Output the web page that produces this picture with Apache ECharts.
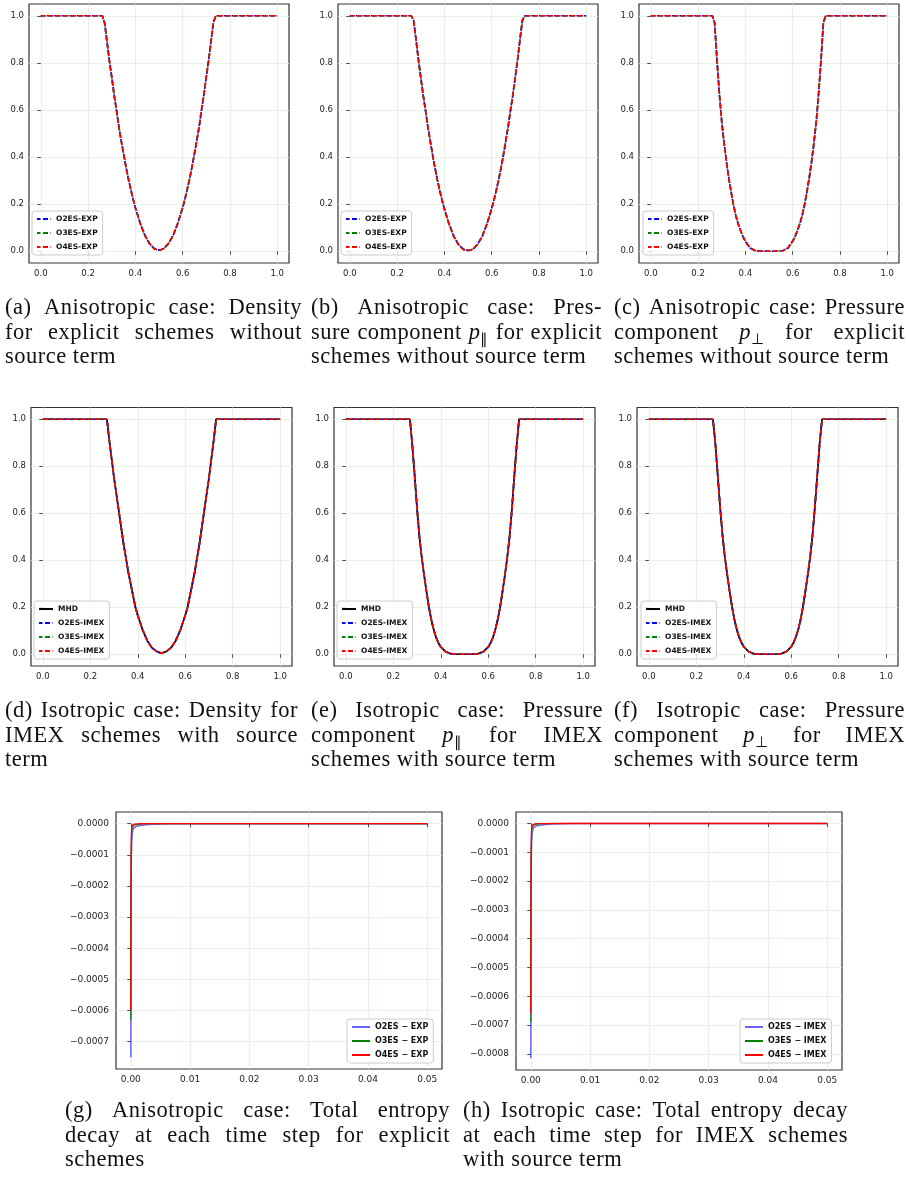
<!DOCTYPE html>
<html>
<head>
<meta charset="utf-8">
<script src="https://cdn.jsdelivr.net/npm/echarts@6.0.0/dist/echarts.min.js"></script>
<style>
  html, body { margin: 0; padding: 0; background: #fff; }
  #wrap { position: relative; width: 906px; height: 1180px; }
  #chart { position: absolute; left: 0; top: 0; width: 906px; height: 1180px; }
  .cap { position: absolute; font-family: 'Liberation Serif', serif; font-size: 22.5px; letter-spacing: 0.5px; line-height: 24.5px; color: #111; }
  .cap div { white-space: nowrap; height: 24.5px; }
  .cap div.j { display: flex; justify-content: space-between; }
  .cap sub { font-size: 0.68em; vertical-align: -0.3em; line-height: 0; }
</style>
</head>
<body>
<div id="wrap">
  <div id="chart"></div>

  <div class="cap" style="left:5px; top:295px; width:297px">
    <div class="j">(a) Anisotropic case: Density</div>
    <div class="j">for explicit schemes without</div>
    <div>source term</div>
  </div>
  <div class="cap" style="left:311px; top:295px; width:291px">
    <div class="j">(b) Anisotropic case: Pres-</div>
    <div class="j">sure component <i>p</i><sub>∥</sub> for explicit</div>
    <div>schemes without source term</div>
  </div>
  <div class="cap" style="left:614px; top:295px; width:291px">
    <div class="j">(c) Anisotropic case: Pressure</div>
    <div class="j">component <i>p</i><sub>⊥</sub> for explicit</div>
    <div>schemes without source term</div>
  </div>

  <div class="cap" style="left:5px; top:698px; width:293px">
    <div class="j">(d) Isotropic case: Density for</div>
    <div class="j">IMEX schemes with source</div>
    <div>term</div>
  </div>
  <div class="cap" style="left:311px; top:698px; width:292px">
    <div class="j">(e) Isotropic case: Pressure</div>
    <div class="j">component <i>p</i><sub>∥</sub> for IMEX</div>
    <div>schemes with source term</div>
  </div>
  <div class="cap" style="left:614px; top:698px; width:291px">
    <div class="j">(f) Isotropic case: Pressure</div>
    <div class="j">component <i>p</i><sub>⊥</sub> for IMEX</div>
    <div>schemes with source term</div>
  </div>

  <div class="cap" style="left:65px; top:1098px; width:385px">
    <div class="j">(g) Anisotropic case: Total entropy</div>
    <div class="j">decay at each time step for explicit</div>
    <div>schemes</div>
  </div>
  <div class="cap" style="left:463px; top:1098px; width:385px">
    <div class="j">(h) Isotropic case: Total entropy decay</div>
    <div class="j">at each time step for IMEX schemes</div>
    <div>with source term</div>
  </div>
</div>

<script>
// justified caption lines: one span per word, spread over the line
document.querySelectorAll('.cap div.j').forEach(el => {
  el.innerHTML = el.innerHTML.trim().split(/\s+/).map(w => '<span>' + w + '</span>').join('')
})

// x positions shared by all the profile plots (a)-(f)
const xGrid = [0, 0.1, 0.2, 0.26, 0.27, 0.28, 0.29, 0.3, 0.31, 0.32, 0.33, 0.34, 0.35, 0.36, 0.37, 0.38, 0.39, 0.4, 0.42, 0.44, 0.46, 0.48, 0.49,
  0.5,
  0.51, 0.52, 0.54, 0.56, 0.58, 0.6, 0.61, 0.62, 0.63, 0.64, 0.65, 0.66, 0.67, 0.68, 0.69, 0.7, 0.71, 0.72, 0.73, 0.74, 0.8, 0.9, 1]

// (a) density, anisotropic, explicit
const rhoAnisoExp = [1, 1, 1, 1, 0.97, 0.89, 0.81, 0.74, 0.665, 0.6, 0.53, 0.47, 0.415, 0.36, 0.31, 0.265, 0.223, 0.185, 0.12, 0.068, 0.032, 0.011, 0.007,
  0.005,
  0.007, 0.011, 0.032, 0.068, 0.12, 0.185, 0.223, 0.265, 0.31, 0.36, 0.415, 0.47, 0.53, 0.6, 0.665, 0.74, 0.81, 0.89, 0.97, 1, 1, 1, 1]
// (b) p_par, anisotropic, explicit
const pParAnisoExp = [1, 1, 1, 1, 0.98, 0.9, 0.815, 0.74, 0.665, 0.6, 0.53, 0.47, 0.41, 0.355, 0.305, 0.26, 0.218, 0.18, 0.115, 0.063, 0.028, 0.008, 0.005,
  0.004,
  0.005, 0.008, 0.028, 0.063, 0.115, 0.18, 0.218, 0.26, 0.305, 0.355, 0.41, 0.47, 0.53, 0.6, 0.665, 0.74, 0.815, 0.9, 0.98, 1, 1, 1, 1]
// (c) p_perp, anisotropic, explicit
const pPerpAnisoExp = [1, 1, 1, 1, 0.97, 0.81, 0.67, 0.55, 0.46, 0.38, 0.31, 0.25, 0.195, 0.15, 0.115, 0.087, 0.062, 0.042, 0.014, 0.003, 0.0005, 0, 0,
  0,
  0, 0, 0.0005, 0.003, 0.014, 0.042, 0.062, 0.087, 0.115, 0.15, 0.195, 0.25, 0.31, 0.38, 0.46, 0.55, 0.67, 0.81, 0.97, 1, 1, 1, 1]
// (d) density, isotropic, IMEX
const rhoIsoImex = [1, 1, 1, 1, 1, 0.91, 0.83, 0.75, 0.68, 0.61, 0.54, 0.47, 0.41, 0.35, 0.3, 0.25, 0.2, 0.165, 0.105, 0.058, 0.027, 0.012, 0.008,
  0.004,
  0.008, 0.012, 0.027, 0.058, 0.105, 0.165, 0.2, 0.25, 0.3, 0.35, 0.41, 0.47, 0.54, 0.61, 0.68, 0.75, 0.83, 0.91, 1, 1, 1, 1, 1]
// (e) p_par, isotropic, IMEX
const pParIsoImex = [1, 1, 1, 1, 1, 0.89, 0.76, 0.62, 0.5, 0.41, 0.335, 0.265, 0.2, 0.148, 0.105, 0.072, 0.048, 0.031, 0.011, 0.003, 0.0005, 0, 0,
  0,
  0, 0, 0.0005, 0.003, 0.011, 0.031, 0.048, 0.072, 0.105, 0.148, 0.2, 0.265, 0.335, 0.41, 0.5, 0.62, 0.76, 0.89, 1, 1, 1, 1, 1]
// (f) p_perp, isotropic, IMEX
const pPerpIsoImex = [1, 1, 1, 1, 1, 0.9, 0.765, 0.63, 0.51, 0.415, 0.34, 0.27, 0.205, 0.15, 0.107, 0.074, 0.05, 0.032, 0.012, 0.003, 0.0005, 0, 0,
  0,
  0, 0, 0.0005, 0.003, 0.012, 0.032, 0.05, 0.074, 0.107, 0.15, 0.205, 0.27, 0.34, 0.415, 0.51, 0.63, 0.765, 0.9, 1, 1, 1, 1, 1]

// (g), (h) total entropy decay per time step
const tSteps = [0, 0.00003, 0.00008, 0.00015, 0.00025, 0.0004, 0.0006, 0.0009, 0.0013, 0.0018, 0.0025, 0.0035, 0.005, 0.007, 0.01, 0.02, 0.03, 0.04, 0.05]
const entO2Exp = [-0.00075, -0.0003, -0.00012, -0.00006, -0.00003, -0.000016, -0.000011, -0.0000085, -0.0000065, -0.000005, -0.0000032, -0.0000018, -0.0000008, -0.0000003, -0.0000001, 0, 0, 0, 0]
const entO3Exp = [-0.00063, -0.00018, -0.00006, -0.000025, -0.000012, -0.000007, -0.000004, -0.0000025, -0.0000013, -0.0000007, -0.0000003, -0.0000001, 0, 0, 0, 0, 0, 0, 0]
const entO4Exp = [-0.0006, -0.00015, -0.00004, -0.000015, -0.000006, -0.000003, -0.0000015, -0.0000008, -0.0000004, -0.0000002, -0.0000001, 0, 0, 0, 0, 0, 0, 0, 0]
const entO2Imex = [-0.000815, -0.00032, -0.00013, -0.000062, -0.00003, -0.000016, -0.000011, -0.0000085, -0.0000065, -0.000005, -0.0000032, -0.0000018, -0.0000008, -0.0000003, -0.0000001, 0, 0, 0, 0]
const entO3Imex = [-0.00069, -0.0002, -0.000065, -0.000026, -0.000012, -0.000007, -0.000004, -0.0000025, -0.0000013, -0.0000007, -0.0000003, -0.0000001, 0, 0, 0, 0, 0, 0, 0]
const entO4Imex = [-0.00066, -0.00016, -0.000045, -0.000016, -0.000006, -0.000003, -0.0000015, -0.0000008, -0.0000004, -0.0000002, -0.0000001, 0, 0, 0, 0, 0, 0, 0, 0]

// tick labels
const profileTicks = [0, 0.2, 0.4, 0.6, 0.8, 1.0]
const timeTicks = [0, 0.01, 0.02, 0.03, 0.04, 0.05]
const entTicksExp = [0, -0.0001, -0.0002, -0.0003, -0.0004, -0.0005, -0.0006, -0.0007]
const entTicksImex = [0, -0.0001, -0.0002, -0.0003, -0.0004, -0.0005, -0.0006, -0.0007, -0.0008]

const expNames = ['O2ES-EXP', 'O3ES-EXP', 'O4ES-EXP']
const imexNames = ['MHD', 'O2ES-IMEX', 'O3ES-IMEX', 'O4ES-IMEX']
const entExpNames = ['O2ES \u2212 EXP', 'O3ES \u2212 EXP', 'O4ES \u2212 EXP']
const entImexNames = ['O2ES \u2212 IMEX', 'O3ES \u2212 IMEX', 'O4ES \u2212 IMEX']

const gridColor = '#e1ede1'
const tickColor = '#222'
const font = 'DejaVu Sans'

const chart = echarts.init(document.getElementById('chart'), null, { renderer: 'canvas' })

// left, top, width, height for the 8 panels
const boxes = [
  [29, 4, 260, 259], [338, 4, 260, 259], [639, 4, 260, 259],
  [31, 407.5, 261, 258.5], [334, 407.5, 261, 258.5], [637, 407.5, 261, 258.5],
  [116, 812, 326, 257], [516, 812, 326, 258],
]

const grids = boxes.map(b => ({
  left: b[0], top: b[1], width: b[2], height: b[3],
  show: true, borderColor: '#333', borderWidth: 1.2, backgroundColor: 'transparent',
}))

function axis(gi, min, max, ticks, fmt, size, margin) {
  return {
    type: 'value', gridIndex: gi, min, max,
    axisLine: { show: false },
    axisTick: { show: true, length: 3.5, lineStyle: { color: tickColor, width: 0.8 }, customValues: ticks },
    axisLabel: { customValues: ticks, formatter: fmt, fontSize: size, color: tickColor, fontFamily: font, margin },
    splitLine: { show: true, lineStyle: { color: gridColor, width: 0.8 } },
  }
}

const fmt1 = v => v.toFixed(1)
const fmt2 = v => v.toFixed(2)
const fmt4 = v => (v < -1e-12 ? '\u2212' : '') + Math.abs(v).toFixed(4)

const xAxes = [], yAxes = []
for (let i = 0; i < 6; i++) {
  xAxes.push(axis(i, -0.05, 1.05, profileTicks, fmt1, 8.5, 6))
  yAxes.push(axis(i, -0.05, 1.05, profileTicks, fmt1, 8.5, 5))
}
xAxes.push(axis(6, -0.0025, 0.0525, timeTicks, fmt2, 9, 6))
yAxes.push(axis(6, -0.0007875, 0.0000375, entTicksExp, fmt4, 9, 7))
xAxes.push(axis(7, -0.0025, 0.0525, timeTicks, fmt2, 9, 6))
yAxes.push(axis(7, -0.000856, 0.00004, entTicksImex, fmt4, 9, 7))

function line(name, gi, xs, ys, style) {
  return {
    type: 'line', name, xAxisIndex: gi, yAxisIndex: gi,
    data: xs.map((x, k) => [x, ys[k]]),
    symbol: 'none', showSymbol: false, silent: true, animation: false,
    color: style.color,
    lineStyle: style,
  }
}

const dashB = { color: '#0000ff', width: 1.7, type: [5, 2.5], dashOffset: 1.5 }
const dashG = { color: '#008000', width: 1.7, type: [5, 2.5] }
const dashR = { color: '#ff0000', width: 1.7, type: [5, 2.5] }
const solidK = { color: '#000000', width: 1.7, type: 'solid' }

const series = []
const expProfiles = [rhoAnisoExp, pParAnisoExp, pPerpAnisoExp]
expProfiles.forEach((ys, gi) => {
  series.push(line(expNames[0], gi, xGrid, ys, dashB))
  series.push(line(expNames[1], gi, xGrid, ys, dashG))
  series.push(line(expNames[2], gi, xGrid, ys, dashR))
})
const imexProfiles = [rhoIsoImex, pParIsoImex, pPerpIsoImex]
imexProfiles.forEach((ys, k) => {
  const gi = k + 3
  series.push(line(imexNames[0], gi, xGrid, ys, solidK))
  series.push(line(imexNames[1], gi, xGrid, ys, dashB))
  series.push(line(imexNames[2], gi, xGrid, ys, dashG))
  series.push(line(imexNames[3], gi, xGrid, ys, dashR))
})

const entB = { color: '#0000ff', width: 1.5, opacity: 0.6, type: 'solid' }
const entG = { color: '#008000', width: 1.1, type: 'solid' }
const entR = { color: '#ff0000', width: 1.3, type: 'solid' }
series.push(line(entExpNames[0], 6, tSteps, entO2Exp, entB))
series.push(line(entExpNames[1], 6, tSteps, entO3Exp, entG))
series.push(line(entExpNames[2], 6, tSteps, entO4Exp, entR))
series.push(line(entImexNames[0], 7, tSteps, entO2Imex, entB))
series.push(line(entImexNames[1], 7, tSteps, entO3Imex, entG))
series.push(line(entImexNames[2], 7, tSteps, entO4Imex, entR))

function legend(left, top, names, iconW, size) {
  return {
    left, top, orient: 'vertical', data: names, selectedMode: false,
    itemWidth: iconW, itemHeight: 8, itemGap: 4,
    padding: [3, 5, 3, 4],
    borderColor: '#cccccc', borderWidth: 1, borderRadius: 3,
    backgroundColor: 'rgba(255,255,255,0.8)',
    // line series add a marker to the icon; keep only the line
    itemStyle: { color: 'rgba(0,0,0,0)', borderWidth: 0, opacity: 0 },
    textStyle: { fontFamily: font, fontWeight: 'bold', fontSize: size, color: '#111', lineHeight: 10 },
  }
}

const legends = [
  legend(32, 211, expNames, 14, 7.5),
  legend(341, 211, expNames, 14, 7.5),
  legend(643, 211, expNames, 14, 7.5),
  legend(34, 601, imexNames, 14, 7.5),
  legend(337, 601, imexNames, 14, 7.5),
  legend(641, 601, imexNames, 14, 7.5),
  legend(347, 1019, entExpNames, 18, 8),
  legend(740, 1019, entImexNames, 18, 8),
]

chart.setOption({
  animation: false,
  backgroundColor: '#ffffff',
  grid: grids,
  xAxis: xAxes,
  yAxis: yAxes,
  legend: legends,
  series,
})
</script>
</body>
</html>
